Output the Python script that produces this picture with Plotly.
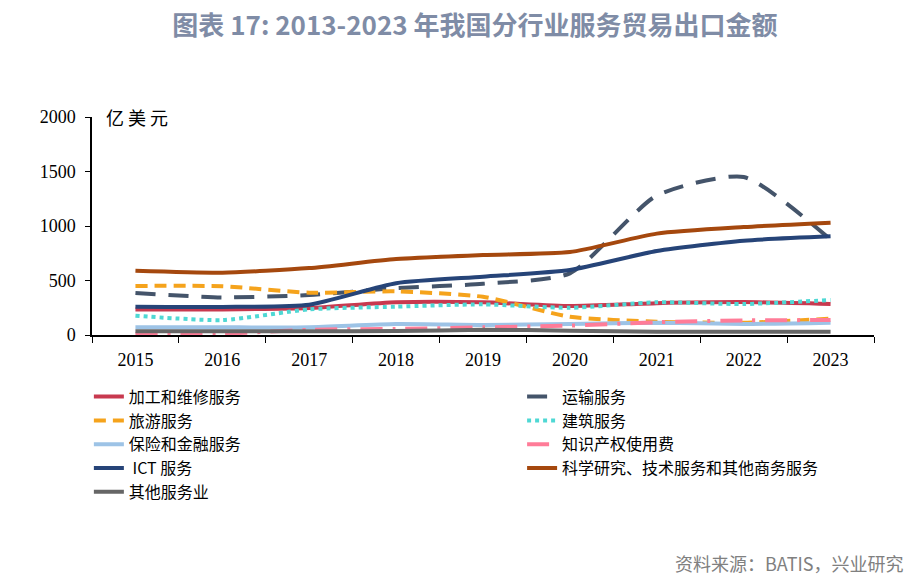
import plotly.graph_objects as go

years = ["2015", "2016", "2017", "2018", "2019", "2020", "2021", "2022", "2023"]

processing = [235, 235, 247, 300, 300, 266, 292, 302, 284]
transport = [386, 345, 367, 430, 470, 566, 1280, 1450, 875]
travel = [450, 447, 388, 400, 350, 168, 122, 112, 150]
construction = [177, 137, 235, 260, 281, 250, 300, 284, 321]
finance = [70, 70, 72, 100, 92, 100, 113, 101, 113]
ip_fees = [10, 12, 48, 56, 70, 86, 117, 134, 137]
ict = [260, 258, 278, 475, 535, 596, 770, 865, 905]
science = [590, 572, 614, 697, 734, 761, 930, 990, 1030]
other = [34, 34, 35, 36, 48, 40, 30, 30, 30]

# (name, values, colour, dash, legend column)
series = [
    ("加工和维修服务", processing, "#C8394F", "solid", "legend"),
    ("运输服务", transport, "#44546A", "20px,13px", "legend2"),
    ("旅游服务", travel, "#F5A31C", "12px,7px", "legend"),
    ("建筑服务", construction, "#4FD8D4", "dot", "legend2"),
    ("保险和金融服务", finance, "#9DC3E6", "solid", "legend"),
    ("知识产权使用费", ip_fees, "#FF7C98", "22px,10px,3px,10px", "legend2"),
    (" ICT 服务", ict, "#264478", "solid", "legend"),
    ("科学研究、技术服务和其他商务服务", science, "#A5480E", "solid", "legend2"),
    ("其他服务业", other, "#666666", "solid", "legend"),
]

fig = go.Figure()
for name, vals, color, dash, leg in series:
    fig.add_trace(go.Scatter(
        x=years, y=vals, name=name, mode="lines", legend=leg,
        line=dict(color=color, width=4, dash=dash, shape="spline", smoothing=0.6),
    ))

legend_font = dict(family="Noto Sans CJK SC", size=16, color="black")
fig.update_layout(
    width=924, height=583,
    margin=dict(l=92, r=50, t=117, b=248),
    plot_bgcolor="white", paper_bgcolor="white",
    title=dict(
        text="<b>图表 17: 2013-2023 年我国分行业服务贸易出口金额</b>",
        x=0.514, xanchor="center", y=0.955, yanchor="middle",
        font=dict(family="Noto Sans CJK SC", size=26, color="#7F8CA6"),
    ),
    font=dict(family="Noto Sans CJK SC", size=15, color="black"),
    showlegend=True,
    legend=dict(
        orientation="v", x=-0.004, xanchor="left", y=-0.205, yanchor="top",
        font=legend_font, bgcolor="rgba(0,0,0,0)",
    ),
    legend2=dict(
        orientation="v", x=0.55, xanchor="left", y=-0.205, yanchor="top",
        font=legend_font, bgcolor="rgba(0,0,0,0)",
    ),
)
fig.update_xaxes(
    type="category", range=[-0.5, 8.5], showline=True, linecolor="black", linewidth=1.5,
    ticks="outside", ticklen=6, tickcolor="black", tickson="boundaries",
    ticklabelstandoff=8,
    showgrid=False, tickfont=dict(family="Liberation Serif", size=18, color="black"),
)
fig.update_yaxes(
    range=[0, 2000], tickvals=[0, 500, 1000, 1500, 2000],
    showline=True, linecolor="black", linewidth=1.5,
    ticks="outside", ticklen=5, tickcolor="black", showgrid=False, zeroline=False,
    ticklabelstandoff=6,
    tickfont=dict(family="Liberation Serif", size=18, color="black"),
)
fig.add_annotation(
    text="亿 美 元", xref="paper", yref="paper", x=0.015, y=1.0, xanchor="left", yanchor="middle",
    showarrow=False, font=dict(family="Noto Sans CJK SC", size=18, color="black"),
)
fig.add_annotation(
    text="资料来源：BATIS，兴业研究", xref="paper", yref="paper", x=1.04, y=-1.045,
    xanchor="right", yanchor="middle", showarrow=False,
    font=dict(family="Noto Sans CJK SC", size=18, color="#808080"),
)

fig.write_html("out.html", config={"displayModeBar": False},
               post_script="document.body.style.margin='0';")
